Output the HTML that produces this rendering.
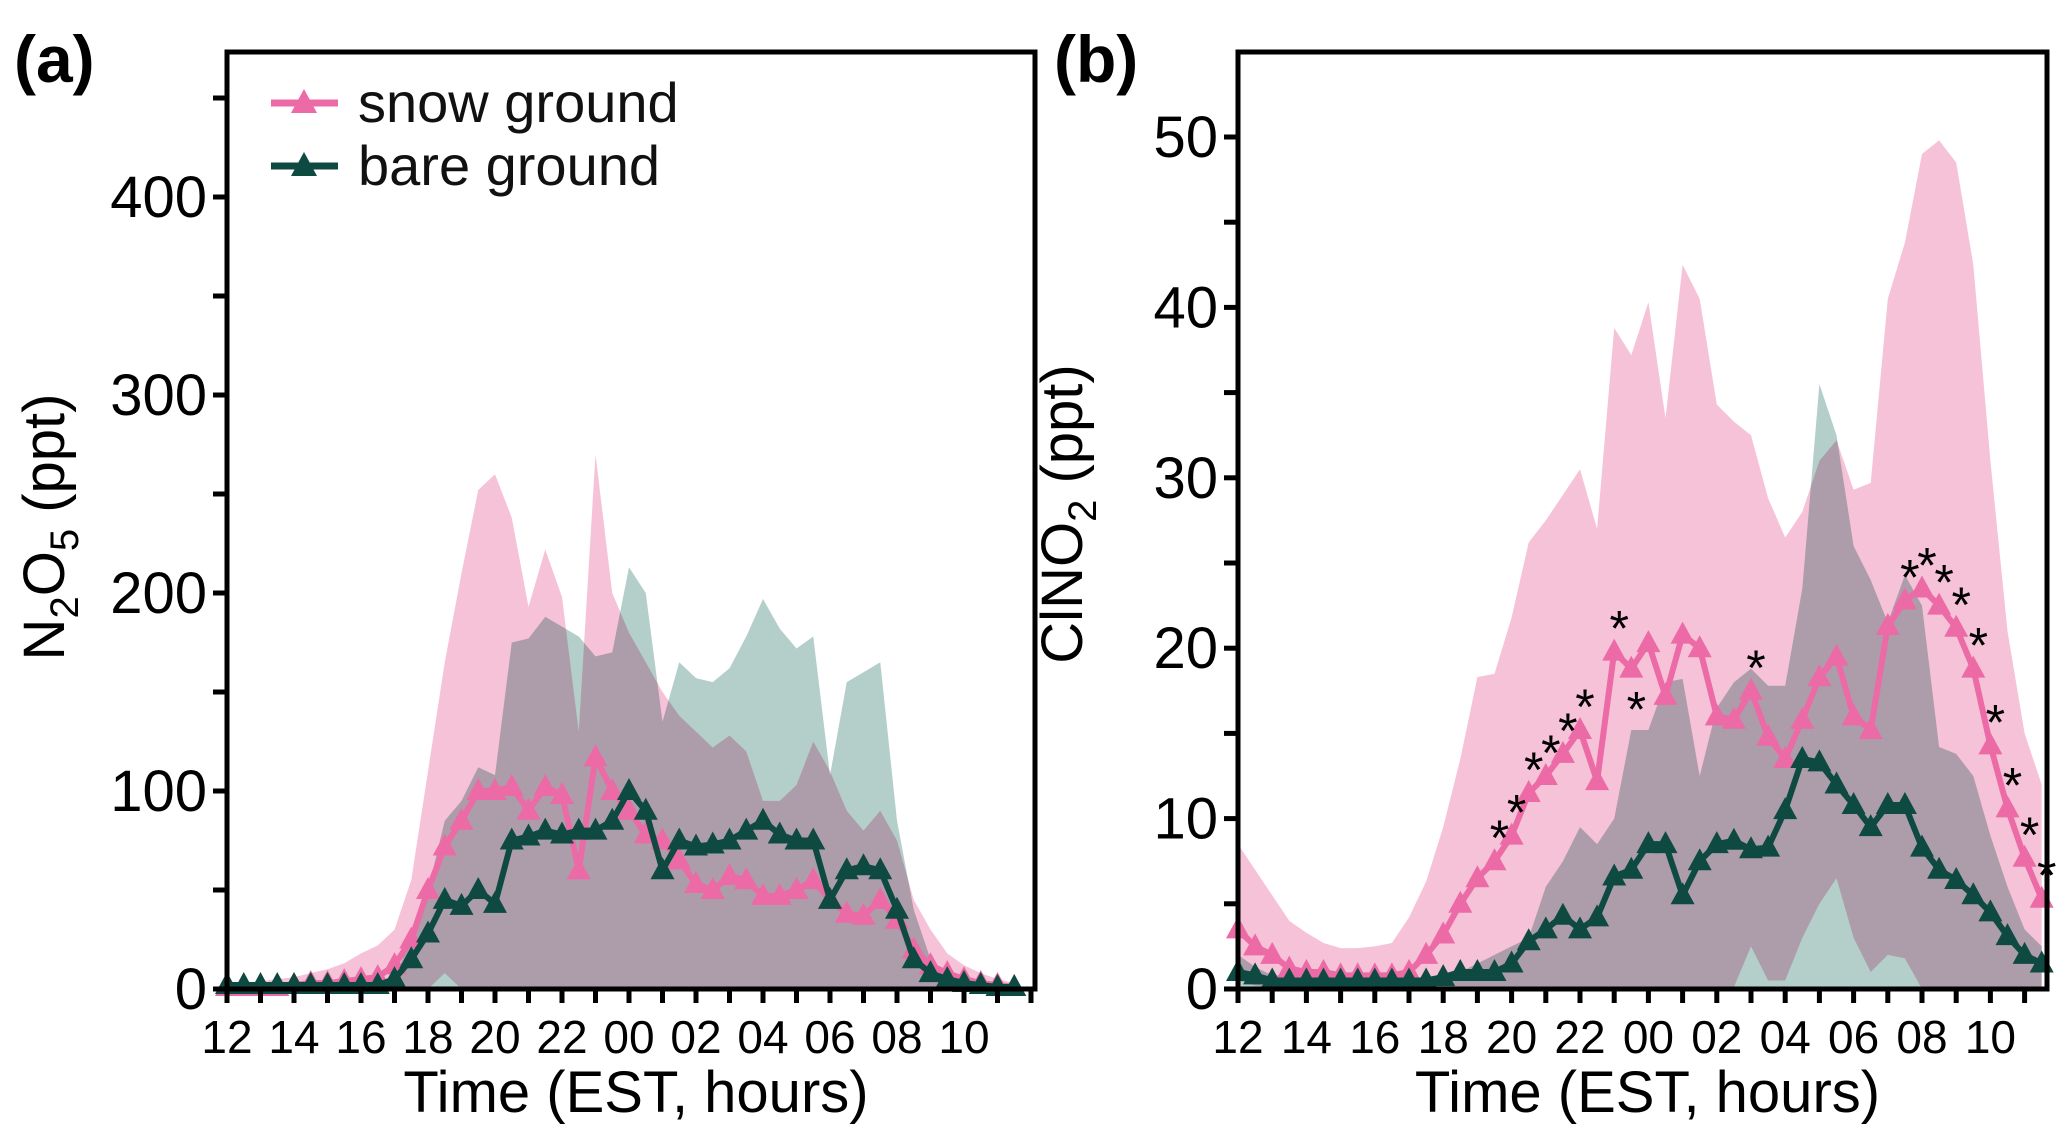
<!DOCTYPE html>
<html><head><meta charset="utf-8"><style>
html,body{margin:0;padding:0;background:#fff;}
svg{display:block;font-family:"Liberation Sans",Arial,sans-serif;}
.band{mix-blend-mode:multiply;}
</style></head><body>
<svg id="fig" width="2067" height="1142" viewBox="0 0 2067 1142" xmlns="http://www.w3.org/2000/svg"></svg>
<script>
// ---- data (index i = 12:00 + 0.5h*i) ----
const hoursLabels = ["12","14","16","18","20","22","00","02","04","06","08","10"];
const yTicksA = [0,100,200,300,400];
const yTicksB = [0,10,20,30,40,50];
// Panel (a) N2O5
const aSnowMean = [1,1,1,1,2,3,3,4,5,6,12,25,50,72,85,100,100,102,90,102,98,60,117,100,90,78,75,65,53,50,57,55,47,47,50,55,45,38,37,45,35,20,12,8,5,3,2,1];
const aSnowUpper = [2,3,4,5,6,8,10,13,18,22,30,55,110,165,210,252,260,238,193,222,198,130,270,200,180,165,150,138,130,122,128,120,95,95,103,125,110,90,80,90,75,45,30,18,12,8,5,3];
const aSnowLower = [0,0,0,0,0,0,0,0,0,0,0,0,0,8,0,0,0,0,0,0,0,0,0,0,0,0,0,0,0,0,0,0,0,0,0,0,0,0,0,0,0,0,0,0,0,0,0,0];
const aBareMean = [2,2,2,2,2,2,2,2,2,2,5,15,28,45,42,50,43,75,77,80,78,80,80,85,100,90,60,75,72,73,75,80,85,78,75,75,45,60,62,60,40,15,8,5,3,2,1,1];
const aBareUpper = [1,1,2,2,2,2,3,3,3,3,6,25,50,85,95,112,108,175,177,188,183,178,168,170,213,200,135,165,157,155,162,178,197,182,172,178,108,155,160,165,85,40,15,8,5,3,2,1];
const aBareLower = [0,0,0,0,0,0,0,0,0,0,0,0,0,0,0,0,0,0,0,0,0,0,0,0,0,0,0,0,0,0,0,0,0,0,0,0,0,0,0,0,0,0,0,0,0,0,0,0];
// Panel (b) ClNO2
const bSnowMean = [3.5,2.5,2,1.2,1,1,0.8,0.8,0.8,0.8,1,2,3.2,5,6.5,7.5,9,11.5,12.5,13.8,15.2,12.2,19.8,18.8,20.3,17.2,20.8,20,16,15.8,17.5,14.8,13.5,15.8,18.3,19.5,16,15.2,21.3,22.8,23.5,22.5,21.2,18.8,14.3,10.6,7.7,5.3];
const bSnowUpper = [8.5,7,5.5,4,3.3,2.7,2.4,2.4,2.5,2.7,4.2,6.3,9.5,13.5,18.3,18.5,21.8,26.2,27.5,29,30.5,27,38.8,37.2,40.3,33.5,42.5,40.5,34.3,33.3,32.5,28.8,26.5,28,31,32.2,29.3,29.7,40.5,43.8,49,49.8,48.5,42.5,31,21,15,12];
const bSnowLower = [0.5,0.2,0.1,0.1,0.1,0.1,0.1,0.1,0.1,0.1,0.1,0.1,0.1,0.1,0.1,0.1,0.1,0.1,0.1,0.1,0.1,0.1,0.1,0.1,0.1,0.1,0.1,0.1,0.1,0.1,2.5,0.5,0.5,3,5,6.5,3,1,2,1.8,0,0,0,0,0,0,0,0];
const bBareMean = [1,0.8,0.5,0.5,0.5,0.5,0.5,0.5,0.5,0.5,0.5,0.5,0.7,1,1,1,1.5,2.8,3.5,4.3,3.5,4.2,6.6,7,8.5,8.5,5.5,7.5,8.5,8.7,8.2,8.3,10.5,13.5,13.3,12,10.8,9.5,10.8,10.8,8.3,7,6.4,5.5,4.5,3.1,2,1.5];
const bBareUpper = [2,1.3,0.8,0.8,0.8,0.8,0.8,0.8,0.8,0.8,0.8,0.6,0.8,1,1.5,2,2.5,3,6,7.5,9.5,8.5,10,15.2,15.2,18,18.2,12.5,16.5,18,18.8,17.8,17.8,23.5,35.5,32.5,26,24,21.5,24.3,22.5,14.2,13.8,12.5,9,6,3.5,2.5];
const bBareLower = [0,0,0,0,0,0,0,0,0,0,0,0,0,0,0,0,0,0,0,0,0,0,0,0,0,0,0,0,0,0,0,0,0,0,0,0,0,0,0,0,0,0,0,0,0,0,0,0];
const starIdx = [15,16,17,18,19,20,22,23,30,39,40,41,42,43,44,45,46,47];
const starBelow = [23];

const NS="http://www.w3.org/2000/svg";
const svg=document.getElementById('fig');
function mk(tag,attrs,parent){const e=document.createElementNS(NS,tag);for(const k in attrs)e.setAttribute(k,attrs[k]);(parent||svg).appendChild(e);return e;}

const PINK="#ec6aa5", GREEN="#0f4a42";

function panel(p){
  const g=mk('g',{});
  
  
  const x=i=>p.x0+p.pxPerHour*0.5*i;
  const y=v=>p.y0-p.pxPerUnit*v;
  const bg=mk('g',{style:'isolation:isolate'},g);
  function band(up,lo,fill,name){
    let d='M'+up.map((v,i)=>x(i)+','+y(v)).join('L');
    for(let i=lo.length-1;i>=0;i--)d+='L'+x(i)+','+y(lo[i]);
    const e=mk('path',{d:d+'Z',fill:fill,class:'band'},bg);
    
    
  }
  band(p.snowU,p.snowL,'#f6c2d8','snow-range-band');
  band(p.bareU,p.bareL,'#b4cfca','bare-range-band');
  function series(vals,col,name){
    const sg=mk('g',{},g);
    
    
    mk('polyline',{points:vals.map((v,i)=>x(i)+','+y(v)).join(' '),fill:'none',stroke:col,'stroke-width':6},sg);
    vals.forEach((v,i)=>{const cx=x(i),cy=y(v);
      const t=mk('path',{d:`M${cx-12},${cy+9}L${cx+12},${cy+9}L${cx},${cy-13}Z`,fill:col},sg);
      
      });
  }
  series(p.snowM,PINK,'snow-ground-line');
  series(p.bareM,GREEN,'bare-ground-line');
  const fr=mk('rect',{x:p.x0,y:p.top,width:p.right-p.x0,height:p.y0-p.top,fill:'none',stroke:'#000','stroke-width':5},g);
  
  
  for(let h=0;h<=24;h++){const tx=p.x0+p.pxPerHour*h; if(tx>p.right)break;
    mk('line',{x1:tx,x2:tx,y1:p.y0,y2:p.y0+14,stroke:'#000','stroke-width':5},g);}
  hoursLabels.forEach((l,k)=>{const t=mk('text',{x:p.x0+p.pxPerHour*2*k,y:1053,'font-size':46,'text-anchor':'middle',fill:'#000'},g);t.textContent=l;
    
    });
  const maxV=(p.y0-p.top)/p.pxPerUnit;
  for(let v=0;v<=maxV;v+=p.minor){mk('line',{x1:p.x0-14,x2:p.x0,y1:y(v),y2:y(v),stroke:'#000','stroke-width':5},g);}
  p.yTicks.forEach(v=>{const t=mk('text',{x:p.x0-20,y:y(v)+20,'font-size':58,'text-anchor':'end',fill:'#000'},g);t.textContent=v;
    
    });
  const xt=mk('text',{x:(p.x0+p.right)/2+5,y:1112,'font-size':58,'text-anchor':'middle',fill:'#000'},g);
  xt.textContent='Time (EST, hours)';
  
  
  return {x,y,g};
}

const A=panel({name:'panel-a',x0:227,right:1035,top:52,y0:989,pxPerHour:33.5,pxPerUnit:1.98,minor:50,yTicks:yTicksA,
  snowM:aSnowMean,snowU:aSnowUpper,snowL:aSnowLower,bareM:aBareMean,bareU:aBareUpper,bareL:aBareLower});
const B=panel({name:'panel-b',x0:1238,right:2047,top:52,y0:989,pxPerHour:34.2,pxPerUnit:17.04,minor:5,yTicks:yTicksB,
  snowM:bSnowMean,snowU:bSnowUpper,snowL:bSnowLower,bareM:bBareMean,bareU:bBareUpper,bareL:bBareLower});

starIdx.forEach(i=>{const below=starBelow.includes(i);
  const t=mk('text',{x:B.x(i)+5,y:below?B.y(bSnowMean[i])+58:B.y(bSnowMean[i])-6,'font-size':50,'text-anchor':'middle',fill:'#000'},B.g);
  t.textContent='*';
  
  });

function txt(attrs,name){const t=mk('text',attrs);return t;}
const ya=txt({transform:'translate(64,527) rotate(-90)','font-size':58,'text-anchor':'middle',fill:'#000'},'y-axis-title-a');
ya.innerHTML='N<tspan font-size="40" dy="14">2</tspan><tspan dy="-14">O</tspan><tspan font-size="40" dy="14">5</tspan><tspan dy="-14"> (ppt)</tspan>';
const yb=txt({transform:'translate(1082,514) rotate(-90)','font-size':58,'text-anchor':'middle',fill:'#000'},'y-axis-title-b');
yb.innerHTML='ClNO<tspan font-size="40" dy="14">2</tspan><tspan dy="-14"> (ppt)</tspan>';
const la=txt({x:14,y:82,'font-size':66,'font-weight':'bold',fill:'#000'},'panel-label-a');la.textContent='(a)';
const lb=txt({x:1054,y:82,'font-size':66,'font-weight':'bold',fill:'#000'},'panel-label-b');lb.textContent='(b)';

const lg=mk('g',{});


[[PINK,'snow ground',103],[GREEN,'bare ground',166]].forEach(([c,s,ly])=>{
  const e=mk('g',{},lg);
  
  
  mk('line',{x1:271,x2:338,y1:ly,y2:ly,stroke:c,'stroke-width':7},e);
  mk('path',{d:`M${291},${ly+10}L${317},${ly+10}L${304},${ly-14}Z`,fill:c},e);
  const t=mk('text',{x:358,y:ly+19,'font-size':56,fill:'#111'},e);t.textContent=s;
});
</script>
</body></html>
